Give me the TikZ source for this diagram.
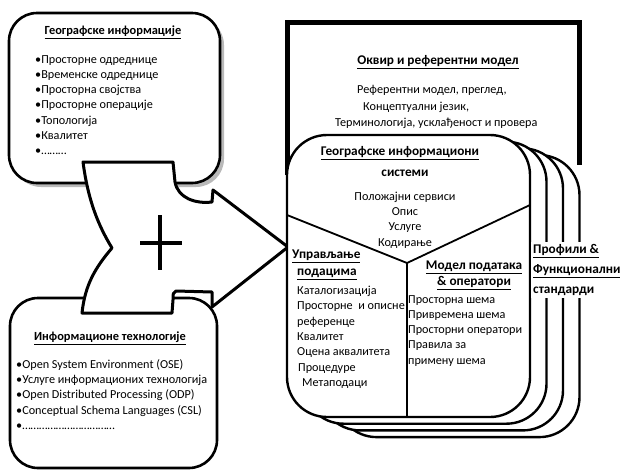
\documentclass[tikz,border=0pt]{standalone}
\usepackage{fontspec}
\setmainfont{Carlito}
\usetikzlibrary{positioning}

\begin{document}
\begin{tikzpicture}[x=1pt, y=-1pt,
  box/.style={draw, line width=2.6pt, rounded corners=28pt, fill=white},
  stackbox/.style={draw, line width=2.4pt, rounded corners=40pt, fill=white},
  txt/.style={inner sep=0pt, font=\fontsize{12.2}{15.3}\selectfont, align=left},
  head/.style={inner sep=0pt, font=\fontsize{13.3}{15}\selectfont\bfseries},
  subhead/.style={inner sep=0pt, font=\fontsize{12.4}{15}\selectfont\bfseries}]
\useasboundingbox (0,0) rectangle (624,472);

% two input boxes
\fill[gray!55, rounded corners=28pt] (13,17) rectangle (224,187);
\draw[box] (9,13) rectangle (220,183);
\draw[box] (10,298) rectangle (217,468);

% merging arrow with the plus
\draw[line width=3pt, fill=white, line join=round]
  (83,162) -- (173,162) -- (175,182) .. controls (178,198) and (195,204) .. (212,202)
  -- (213,190) -- (288,247) -- (212,307) -- (212,292) -- (176,291)
  .. controls (173,293) .. (173,300) -- (172,313) -- (82,313)
  .. controls (85,285) and (95,268) .. (112,248)
  .. controls (98,225) and (88,200) .. (83,162) -- cycle;
\draw[line width=4pt] (140,243) -- (182,243) (160,215) -- (160,270);

% frame and reference model
\draw[line width=5pt] (287,175) -- (287,22) -- (579,22) -- (579,165);

% stacked GIS boxes
\foreach \k in {3,2,1}
  \draw[stackbox, shift={(16.5*\k,6.7*\k)}] (287,135) rectangle (530,417);
\draw[stackbox] (287,135) rectangle (530,417);
\draw[line width=1.8pt] (287,215) -- (407,263) -- (530,205) (407,263) -- (407,417);

% texts of the input boxes
\node[subhead] (geo) at (113,32) {\underline{Географске информације}};
\node[txt, anchor=north west] (geolist) at (35,55)
  {•Просторне одреднице\\•Временске одреднице\\•Просторна својства\\•Просторне операције\\•Топологија\\•Квалитет\\•………};
\node[subhead] (it) at (110,338) {\underline{Информационе технологије}};
\node[txt, anchor=north west] (itlist) at (16,359)
  {•Open System Environment (OSE)\\•Услуге информационих технологија\\•Open Distributed Processing (ODP)\\•Conceptual Schema Languages (CSL)\\•……………………………};

% texts of the frame
\node[head] (frame) at (438,62) {\underline{Оквир и референтни модел}};
\node[txt, anchor=west] (ref1) at (357,90) {Референтни модел, преглед,};
\node[txt, anchor=west] (ref2) at (363,107) {Концептуални језик,};
\node[txt, anchor=west] (ref3) at (335,123) {Терминологија, усклађеност и провера};

% texts of the front box
\node[head] (gis) at (400,153) {\underline{Географске информациони}};
\node[head] (gis2) at (405,173) {системи};
\node[txt, align=center] (srv) at (405,220) {Положајни сервиси\\Опис\\Услуге\\Кодирање};
\node[head, anchor=west] (mgmt1) at (292,256) {\underline{Управљање}};
\node[head, anchor=west] (mgmt2) at (297,274) {\underline{подацима}};
\node[txt, anchor=north west] (mgmt) at (297,286)
  {Каталогизација\\Просторне~ и описне\\референце\\Квалитет\\Оцена аквалитета\\\hspace{1pt}Процедуре\\\hspace{5pt}Метаподаци};
\node[head] (mod1) at (474,267) {\underline{Модел података}};
\node[head] (mod2) at (474,283) {\underline{\& оператори}};
\node[txt, anchor=north west] (mod) at (408,295)
  {Просторна шема\\Привремена шема\\Просторни оператори\\Правила за\\примену шема};

% profiles label across the stack
\node[head, fill=white, align=left, anchor=north west, inner sep=2pt,
  font=\fontsize{13.3}{20}\selectfont\bfseries] (prof) at (531,242)
  {\underline{Профили \&}\\\underline{Функционални}\\стандарди};
\end{tikzpicture}
\end{document}
